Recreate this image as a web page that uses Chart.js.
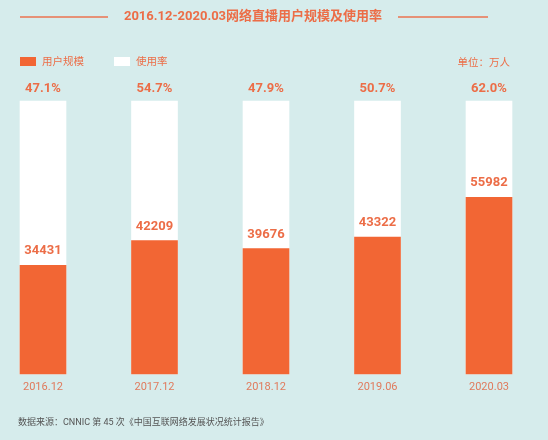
<!DOCTYPE html>
<html><head><meta charset="utf-8">
<script src="https://cdn.jsdelivr.net/npm/chart.js@4/dist/chart.umd.min.js"></script>
<style>
html,body{margin:0;padding:0;background:#d6ecec;}
#wrap{position:relative;width:548px;height:440px;}
</style></head>
<body><div id="wrap"><canvas id="c" width="548" height="440"></canvas></div>
<script>
const categories = ['2016.12','2017.12','2018.12','2019.06','2020.03'];
const users = [34431, 42209, 39676, 43322, 55982];
const usageRate = [47.1, 54.7, 47.9, 50.7, 62.0];
const usageLabels = ['47.1%','54.7%','47.9%','50.7%','62.0%'];
const fullBar = 86500;

const ORANGE = '#f26634';
const TXT = '#ec6d47';
const FONT = "Roboto, 'Noto Sans CJK SC', sans-serif";

const deco = {
  id:'deco',
  afterDatasetsDraw(chart){
    const ctx = chart.ctx;
    const xs = chart.scales.x, ys = chart.scales.y;
    ctx.save();
    // title
    ctx.fillStyle = TXT;
    ctx.font = "bold 13px " + FONT;
    ctx.textAlign = 'center'; ctx.textBaseline = 'middle';
    ctx.fillText('2016.12-2020.03网络直播用户规模及使用率', 253, 17);
    ctx.strokeStyle = '#ec7350'; ctx.lineWidth = 1.5;
    ctx.beginPath(); ctx.moveTo(20,17); ctx.lineTo(108,17); ctx.moveTo(398,17); ctx.lineTo(488,17); ctx.stroke();
    // legend
    ctx.fillStyle = ORANGE; ctx.fillRect(20,57,16,9);
    ctx.fillStyle = '#ffffff'; ctx.fillRect(114,57,16,9);
    ctx.fillStyle = TXT; ctx.font = "10.5px " + FONT; ctx.textAlign='left';
    ctx.fillText('用户规模', 42, 62);
    ctx.fillText('使用率', 136, 62);
    ctx.textAlign='right';
    ctx.fillText('单位：万人', 510, 63);
    // labels
    ctx.textAlign='center';
    ctx.font = "bold 13px " + FONT;
    categories.forEach((c,i)=>{
      const x = xs.getPixelForValue(i);
      ctx.fillText(usageLabels[i], x, ys.getPixelForValue(fullBar) - 12);
      ctx.fillText(String(users[i]), x, ys.getPixelForValue(users[i]) - 14);
    });
    // source
    ctx.fillStyle = '#555555'; ctx.font = "9px " + FONT; ctx.textAlign='left';
    ctx.fillText('数据来源：CNNIC 第 45 次《中国互联网络发展状况统计报告》', 18, 423);
    ctx.restore();
  }
};

new Chart(document.getElementById('c'), {
  type:'bar',
  data:{
    labels: categories,
    datasets:[
      {label:'用户规模', data: users, backgroundColor: ORANGE, barThickness:46, order:0, clip:false},
      {label:'使用率', data: categories.map(()=>fullBar), backgroundColor:'#ffffff', barThickness:46, order:1, clip:false}
    ]
  },
  options:{
    responsive:false, animation:false,
    layout:{padding:{left:43,right:59,top:101,bottom:39}},
    plugins:{legend:{display:false}, tooltip:{enabled:false}},
    scales:{
      x:{stacked:true, offset:false, grid:{display:false, drawTicks:false}, border:{display:false},
         ticks:{color:'#e07a5c', font:{size:11, family:FONT}, padding:7, maxRotation:0}},
      y:{stacked:false, display:false, min:0, max:fullBar}
    }
  },
  plugins:[deco]
});
</script></body></html>
